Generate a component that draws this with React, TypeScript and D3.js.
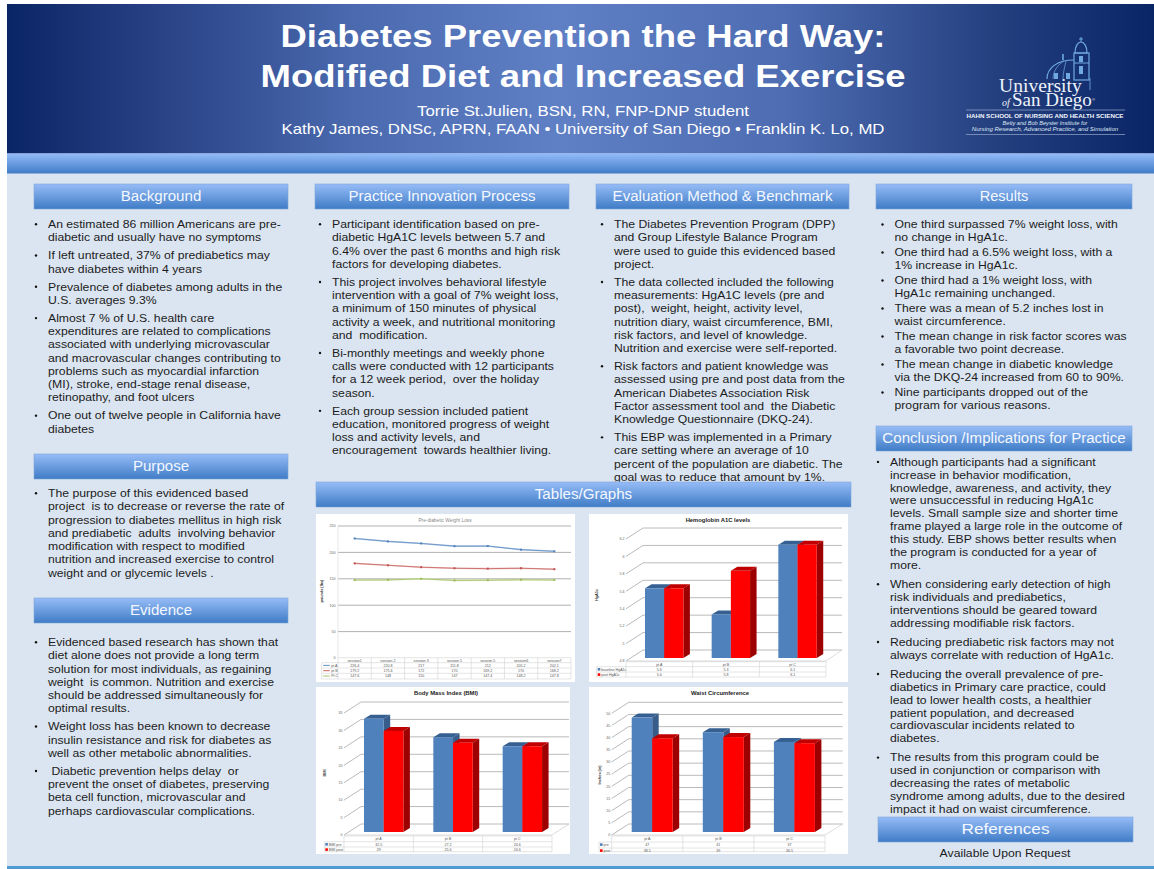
import React from "react";
import * as d3 from "d3";

const titleLines = ["Diabetes Prevention the Hard Way:", "Modified Diet and Increased Exercise"];
const titleWidths = [605, 645];
const authorLines = [
  "Torrie St.Julien, BSN, RN, FNP-DNP student",
  "Kathy James, DNSc, APRN, FAAN • University of San Diego • Franklin K. Lo, MD",
];
const authorWidths = [332, 603];

const backgroundItems = [
  ["An estimated 86 million Americans are pre-", "diabetic and usually have no symptoms"],
  ["If left untreated, 37% of prediabetics may", "have diabetes within 4 years"],
  ["Prevalence of diabetes among adults in the", "U.S. averages 9.3%"],
  ["Almost 7 % of U.S. health care", "expenditures are related to complications", "associated with underlying microvascular", "and macrovascular changes contributing to", "problems such as myocardial infarction", "(MI), stroke, end-stage renal disease,", "retinopathy, and foot ulcers"],
  ["One out of twelve people in California have", "diabetes"],
];
const purposeItems = [
  ["The purpose of this evidenced based", "project  is to decrease or reverse the rate of", "progression to diabetes mellitus in high risk", "and prediabetic  adults  involving behavior", "modification with respect to modified", "nutrition and increased exercise to control", "weight and or glycemic levels ."],
];
const evidenceItems = [
  ["Evidenced based research has shown that", "diet alone does not provide a long term", "solution for most individuals, as regaining", "weight  is common. Nutrition and exercise", "should be addressed simultaneously for", "optimal results."],
  ["Weight loss has been known to decrease", "insulin resistance and risk for diabetes as", "well as other metabolic abnormalities."],
  [" Diabetic prevention helps delay  or", "prevent the onset of diabetes, preserving", "beta cell function, microvascular and", "perhaps cardiovascular complications."],
];
const practiceItems = [
  ["Participant identification based on pre-", "diabetic HgA1C levels between 5.7 and", "6.4% over the past 6 months and high risk", "factors for developing diabetes."],
  ["This project involves behavioral lifestyle", "intervention with a goal of 7% weight loss,", "a minimum of 150 minutes of physical", "activity a week, and nutritional monitoring", "and  modification."],
  ["Bi-monthly meetings and weekly phone", "calls were conducted with 12 participants", "for a 12 week period,  over the holiday", "season."],
  ["Each group session included patient", "education, monitored progress of weight", "loss and activity levels, and", "encouragement  towards healthier living."],
];
const evaluationItems = [
  ["The Diabetes Prevention Program (DPP)", "and Group Lifestyle Balance Program", "were used to guide this evidenced based", "project."],
  ["The data collected included the following", "measurements: HgA1C levels (pre and", "post),  weight, height, activity level,", "nutrition diary, waist circumference, BMI,", "risk factors, and level of knowledge.", "Nutrition and exercise were self-reported."],
  ["Risk factors and patient knowledge was", "assessed using pre and post data from the", "American Diabetes Association Risk", "Factor assessment tool and  the Diabetic", "Knowledge Questionnaire (DKQ-24)."],
  ["This EBP was implemented in a Primary", "care setting where an average of 10", "percent of the population are diabetic. The", "goal was to reduce that amount by 1%."],
];
const resultsItems = [
  ["One third surpassed 7% weight loss, with", "no change in HgA1c."],
  ["One third had a 6.5% weight loss, with a", "1% increase in HgA1c."],
  ["One third had a 1% weight loss, with", "HgA1c remaining unchanged."],
  ["There was a mean of 5.2 inches lost in", "waist circumference."],
  ["The mean change in risk factor scores was", "a favorable two point decrease."],
  ["The mean change in diabetic knowledge", "via the DKQ-24 increased from 60 to 90%."],
  ["Nine participants dropped out of the", "program for various reasons."],
];
const conclusionItems = [
  ["Although participants had a significant", "increase in behavior modification,", "knowledge, awareness, and activity, they", "were unsuccessful in reducing HgA1c", "levels. Small sample size and shorter time", "frame played a large role in the outcome of", "this study. EBP shows better results when", "the program is conducted for a year of", "more."],
  ["When considering early detection of high", "risk individuals and prediabetics,", "interventions should be geared toward", "addressing modifiable risk factors."],
  ["Reducing prediabetic risk factors may not", "always correlate with reduction of HgA1c."],
  ["Reducing the overall prevalence of pre-", "diabetics in Primary care practice, could", "lead to lower health costs, a healthier", "patient population, and decreased", "cardiovascular incidents related to", "diabetes."],
  ["The results from this program could be", "used in conjunction or comparison with", "decreasing the rates of metabolic", "syndrome among adults, due to the desired", "impact it had on waist circumference."],
];

// Weight-loss line chart
const sessions = ["session1", "session 2", "session 3", "session 5", "session 5", "session6", "session7"];
const weightPtA = [226.4, 220.8, 217, 211.8, 212, 205.2, 202.1];
const weightPtB = [179.2, 175.6, 172, 170, 169.2, 170, 168.2];
const weightPtC = [147.6, 148, 150, 147, 147.4, 148.2, 147.8];
const weightTicks = [0, 50, 100, 150, 200, 250];

// 3D bar charts
const patients = ["pt A", "pt B", "pt C"];
const a1cBase = [5.6, 5.3, 6.1];
const a1cPost = [5.6, 5.8, 6.1];
const a1cTicks = [4.8, 5, 5.2, 5.4, 5.6, 5.8, 6, 6.2];
const bmiPre = [32.5, 27.2, 24.6];
const bmiPost = [29, 25.6, 24.6];
const bmiTicks = [0, 5, 10, 15, 20, 25, 30, 35];
const waistPre = [47, 41, 37];
const waistPost = [38.5, 39, 36.5];
const waistTicks = [0, 5, 10, 15, 20, 25, 30, 35, 40, 45, 50];

const FONT = "'Liberation Sans', Arial, sans-serif";
const SERIF = "'Liberation Serif', serif";

function Heading({ x, y, w, label, stretch = 1.035 }: { x: number; y: number; w: number; label: string; stretch?: number }) {
  return (
    <g>
      <rect x={x} y={y} width={w} height={25} fill="url(#headBar)" stroke="#7ea6d8" strokeWidth={0.6} />
      <text
        transform={`translate(${x + w / 2},${y + 17}) scale(${stretch},1)`}
        textAnchor="middle" fontSize={14.6} fill="#f4f8ff" fontFamily={FONT}
      >{label}</text>
    </g>
  );
}

function Bullets({ items, x, y, lh = 13.25, gap = 4.8, size = 11.6 }: { items: string[][]; x: number; y: number; lh?: number; gap?: number; size?: number }) {
  let cursor = y;
  const out: React.ReactNode[] = [];
  items.forEach((lines, i) => {
    out.push(<circle key={`b${i}`} cx={x + 2} cy={cursor - 3.8} r={1.2} fill="#111" />);
    lines.forEach((line, j) => {
      out.push(
        <text
          key={`${i}-${j}`}
          transform={`translate(${x + 14},${cursor}) scale(1.053,1)`}
          fontSize={size} fill="#1c1c1c" fontFamily={FONT} xmlSpace="preserve"
        >{line}</text>
      );
      cursor += lh;
    });
    cursor += gap;
  });
  return <g>{out}</g>;
}

type TableRow = { label: string; color: string; values: (string | number)[]; line?: boolean };

function DataTable({ x0, x1, labelX, rowYs, heads, rows }: { x0: number; x1: number; labelX: number; rowYs: number[]; heads: string[]; rows: TableRow[] }) {
  const band = d3.scaleBand<number>().domain(heads.map((_, i) => i)).range([x0, x1]);
  const stroke = "#c9c9c9";
  return (
    <g fontFamily={FONT} fontSize={3.6} fill="#555">
      <line x1={x0} x2={x1} y1={rowYs[0]} y2={rowYs[0]} stroke={stroke} strokeWidth={0.5} />
      {rowYs.slice(1).map((y) => (
        <line key={y} x1={labelX} x2={x1} y1={y} y2={y} stroke={stroke} strokeWidth={0.5} />
      ))}
      <line x1={labelX} x2={labelX} y1={rowYs[1]} y2={rowYs[rowYs.length - 1]} stroke={stroke} strokeWidth={0.5} />
      {d3.range(heads.length + 1).map((i) => (
        <line key={i} x1={x0 + i * band.step()} x2={x0 + i * band.step()} y1={rowYs[0]} y2={rowYs[rowYs.length - 1]} stroke={stroke} strokeWidth={0.5} />
      ))}
      {heads.map((h, i) => (
        <text key={h + i} x={band(i)! + band.step() / 2} y={rowYs[0] + 3.9} textAnchor="middle">{h}</text>
      ))}
      {rows.map((r, ri) => (
        <g key={r.label}>
          {r.line ? (
            <line x1={labelX + 1.5} x2={labelX + 8} y1={rowYs[ri + 1] + 2.7} y2={rowYs[ri + 1] + 2.7} stroke={r.color} strokeWidth={0.9} />
          ) : (
            <rect x={labelX + 1} y={rowYs[ri + 1] + 1.3} width={2.6} height={2.6} fill={r.color} />
          )}
          <text x={labelX + (r.line ? 9.5 : 4.5)} y={rowYs[ri + 1] + 4}>{r.label}</text>
          {r.values.map((v, i) => (
            <text key={i} x={band(i)! + band.step() / 2} y={rowYs[ri + 1] + 4} textAnchor="middle">{v}</text>
          ))}
        </g>
      ))}
    </g>
  );
}

function WeightChart() {
  const x0 = 338, x1 = 571;
  const y = d3.scaleLinear().domain([0, 250]).range([658, 526]);
  const x = d3.scalePoint<string>().domain(sessions.map((_, i) => String(i))).range([x0, x1]).padding(0.5);
  const series = [
    { label: "pt A", color: "#4f81bd", halo: "#b9cde6", values: weightPtA },
    { label: "pt B", color: "#c0504d", halo: "#eec6c5", values: weightPtB },
    { label: "Pt C", color: "#9bbb59", halo: "#d5e3b6", values: weightPtC },
  ];
  const path = d3.line<number>().x((_, i) => x(String(i))!).y((d) => y(d));
  return (
    <g>
      <rect x={316} y={514} width={259} height={168} fill="#fff" />
      <text x={445} y={522} textAnchor="middle" fontSize={4.8} fill="#8a8a8a" fontFamily={FONT}>Pre-diabetic Weight Loss</text>
      {weightTicks.map((t) => (
        <g key={t}>
          {t > 0 && <line x1={x0} x2={x1} y1={y(t)} y2={y(t)} stroke="#a8a8a8" strokeWidth={0.9} />}
          <text x={x0 - 2.5} y={y(t) + 1.3} textAnchor="end" fontSize={3.6} fill="#666" fontFamily={FONT}>{t}</text>
        </g>
      ))}
      <line x1={x0} x2={x0} y1={y(250)} y2={y(0)} stroke="#cfcfcf" strokeWidth={0.5} />
      {series.map((s) => (
        <g key={s.label}>
          <path d={path(s.values)!} fill="none" stroke={s.halo} strokeWidth={1.6} />
          <path d={path(s.values)!} fill="none" stroke={s.color} strokeWidth={0.7} />
          {s.values.map((v, i) => (
            <rect key={i} x={x(String(i))! - 1} y={y(v) - 1} width={2} height={2} fill={s.color} />
          ))}
        </g>
      ))}
      <text transform="translate(323,591) rotate(-90)" textAnchor="middle" fontSize={3.8} fontWeight="bold" fill="#333" fontFamily={FONT}>pounds (lbs)</text>
      <DataTable
        x0={x0}
        x1={x1}
        labelX={321.7}
        rowYs={[657.7, 662.7, 668, 673.3, 679]}
        heads={sessions}
        rows={series.map((s) => ({ label: s.label, color: s.color, values: s.values, line: true }))}
      />
    </g>
  );
}

type Bar3DProps = {
  panel: [number, number, number, number];
  title: string; titleX: number; titleY: number;
  axisLabel: string; axisX: number; axisY: number;
  ticks: number[];
  x0: number; x1: number; yTop: number; yBottom: number;
  depthX: number; depthY: number; backRight: number;
  barStart: number; barW: number; barLift: number;
  names: [string, string]; pre: number[]; post: number[];
  labelX: number; rowYs: number[];
};

function Bar3D(p: Bar3DProps) {
  const domain = d3.extent(p.ticks) as [number, number];
  const y = d3.scaleLinear().domain(domain).range([p.yBottom, p.yTop]);
  const cat = d3.scaleBand<string>().domain(patients).range([p.x0, p.x1]);
  const faces = [
    { front: "#4f81bd", top: "#376092", side: "#385d8a", values: p.pre },
    { front: "#ff0000", top: "#c00000", side: "#9c0000", values: p.post },
  ];
  const bx = 6.5, by = 4;
  return (
    <g>
      <rect x={p.panel[0]} y={p.panel[1]} width={p.panel[2]} height={p.panel[3]} fill="#fff" />
      <text x={p.titleX} y={p.titleY} textAnchor="middle" fontSize={5.85} fontWeight="bold" fill="#222" fontFamily={FONT}>{p.title}</text>
      {p.ticks.map((t) => (
        <g key={t}>
          <polyline
            points={`${p.x0},${y(t)} ${p.x0 + p.depthX},${y(t) - p.depthY} ${p.backRight},${y(t) - p.depthY}`}
            fill="none" stroke="#a8a8a8" strokeWidth={0.8}
          />
          <text x={p.x0 - 1.5} y={y(t) + 1.3} textAnchor="end" fontSize={3.6} fill="#666" fontFamily={FONT}>{t}</text>
        </g>
      ))}
      <polyline
        points={`${p.x1},${p.yBottom} ${p.backRight},${p.yBottom - p.depthY}`}
        fill="none" stroke="#c4c4c4" strokeWidth={0.6}
      />
      <line x1={p.x0} x2={p.x1} y1={p.yBottom} y2={p.yBottom} stroke="#c4c4c4" strokeWidth={0.6} />
      {patients.map((c, ci) => (
        <g key={c}>
          {faces.map((f, fi) => {
            const left = cat(c)! + p.barStart + fi * p.barW;
            const top = y(f.values[ci]) - p.barLift;
            const base = p.yBottom - p.barLift;
            const right = left + p.barW;
            return (
              <g key={fi}>
                <polygon points={`${left},${top} ${left + bx},${top - by} ${right + bx},${top - by} ${right},${top}`} fill={f.top} />
                <polygon points={`${right},${top} ${right + bx},${top - by} ${right + bx},${base - by} ${right},${base}`} fill={f.side} />
                <rect x={left} y={top} width={p.barW} height={base - top} fill={f.front} />
              </g>
            );
          })}
        </g>
      ))}
      <text transform={`translate(${p.axisX},${p.axisY}) rotate(-90)`} textAnchor="middle" fontSize={3.8} fontWeight="bold" fill="#333" fontFamily={FONT}>{p.axisLabel}</text>
      <DataTable
        x0={p.x0}
        x1={p.x1}
        labelX={p.labelX}
        rowYs={p.rowYs}
        heads={patients}
        rows={[
          { label: p.names[0], color: "#4f81bd", values: p.pre },
          { label: p.names[1], color: "#ff0000", values: p.post },
        ]}
      />
    </g>
  );
}

function Logo() {
  const blue = "#6fa9e0";
  return (
    <g>
      {/* Bell tower */}
      <path d="M1081 37v5M1079 39h4" stroke={blue} strokeWidth={1} fill="none" />
      <path d="M1075 53c0-7 3-11 6-11s6 4 6 11z" fill="none" stroke={blue} strokeWidth={1.2} />
      <rect x={1074} y={53} width={15} height={27} fill="none" stroke={blue} strokeWidth={1.2} />
      <rect x={1079} y={56} width={4} height={6} fill={blue} />
      <rect x={1079} y={66} width={4} height={8} fill={blue} />
      <line x1={1074} x2={1089} y1={63} y2={63} stroke={blue} strokeWidth={1} />
      <line x1={1090} x2={1090} y1={78} y2={90} stroke={blue} strokeWidth={0.8} />
      {/* Dome */}
      <path d="M1047 79c0-11 10-19 27-19" fill="none" stroke={blue} strokeWidth={1.2} />
      <path d="M1053 79c0-9 6-15 11-18M1063 79c0-7 2-13 3-18" fill="none" stroke={blue} strokeWidth={0.7} />
      <path d="M1063 60v-6" stroke={blue} strokeWidth={1.6} />
      <rect x={1054} y={73} width={4} height={6} fill={blue} />
      <rect x={1066} y={73} width={4} height={6} fill={blue} />
      {/* Wordmark */}
      <text x={999} y={92} fontSize={19.6} fill="#eef3fb" fontFamily={SERIF}>University</text>
      <text x={1002} y={106} fontSize={10} fontStyle="italic" fill="#eef3fb" fontFamily={SERIF}>of</text>
      <text x={1012} y={106} fontSize={19} fill="#eef3fb" fontFamily={SERIF}>San Diego</text>
      <text x={1092} y={101} fontSize={4} fill="#eef3fb" fontFamily={FONT}>®</text>
      <line x1={966} x2={1125} y1={110} y2={110} stroke="#a9bcdc" strokeWidth={0.6} />
      <text x={1045} y={118} textAnchor="middle" fontSize={6.2} fontWeight="bold" fill="#f2f5fb" fontFamily={FONT}>HAHN SCHOOL OF NURSING AND HEALTH SCIENCE</text>
      <text x={1045} y={124.5} textAnchor="middle" fontSize={5.6} fontStyle="italic" fill="#dde6f4" fontFamily={FONT}>Betty and Bob Beyster Institute for</text>
      <text x={1045} y={131} textAnchor="middle" fontSize={6.1} fontStyle="italic" fill="#dde6f4" fontFamily={FONT}>Nursing Research, Advanced Practice, and Simulation</text>
      <line x1={966} x2={1125} y1={134.5} y2={134.5} stroke="#a9bcdc" strokeWidth={0.6} />
    </g>
  );
}

export default function App() {
  return (
    <svg width={1154} height={869} viewBox="0 0 1154 869" style={{ position: "absolute", left: 0, top: 0, background: "#fff" }}>
      <defs>
        <linearGradient id="banner" x1="0" x2="1" y1="0" y2="0">
          <stop offset="0" stopColor="#0a2566" />
          <stop offset="0.12" stopColor="#263f82" />
          <stop offset="0.3" stopColor="#4a69ae" />
          <stop offset="0.48" stopColor="#6080c6" />
          <stop offset="0.68" stopColor="#4d6cb2" />
          <stop offset="0.86" stopColor="#25407f" />
          <stop offset="1" stopColor="#0a2566" />
        </linearGradient>
        <linearGradient id="stripe" x1="0" x2="0" y1="0" y2="1">
          <stop offset="0" stopColor="#94bbf8" />
          <stop offset="1" stopColor="#3f7cc6" />
        </linearGradient>
        <linearGradient id="headBar" x1="0" x2="0" y1="0" y2="1">
          <stop offset="0" stopColor="#96bcf7" />
          <stop offset="1" stopColor="#3f7cc6" />
        </linearGradient>
      </defs>

      <rect x={7} y={4} width={1147} height={865} fill="#dbe5f1" />
      <rect x={7} y={4} width={1147} height={149.5} fill="url(#banner)" />
      <rect x={7} y={153.5} width={1147} height={20} fill="url(#stripe)" />
      <rect x={7} y={866} width={1147} height={3} fill="#4f9ad0" />

      {titleLines.map((t, i) => (
        <text
          key={t}
          x={583} y={46.5 + i * 40.5}
          textAnchor="middle" fontSize={31.5} fontWeight="bold" fill="#fff" fontFamily={FONT}
          textLength={titleWidths[i]} lengthAdjust="spacingAndGlyphs"
        >{t}</text>
      ))}
      {authorLines.map((t, i) => (
        <text
          key={t}
          x={583} y={116 + i * 18.3}
          textAnchor="middle" fontSize={15} fill="#fff" fontFamily={FONT}
          textLength={authorWidths[i]} lengthAdjust="spacingAndGlyphs"
        >{t}</text>
      ))}
      <Logo />

      <Heading x={34} y={184} w={254} label="Background" />
      <Bullets items={backgroundItems} x={34} y={228} />
      <Heading x={34} y={454} w={254} label="Purpose" />
      <Bullets items={purposeItems} x={34} y={497} />
      <Heading x={34} y={598} w={254} label="Evidence" />
      <Bullets items={evidenceItems} x={34} y={646} />

      <Heading x={315} y={184} w={254} label="Practice Innovation Process" />
      <Bullets items={practiceItems} x={318} y={228} />

      <Heading x={596} y={184} w={253} label="Evaluation Method & Benchmark" />
      <Bullets items={evaluationItems} x={600} y={228} />

      <Heading x={876} y={184} w={256} label="Results" stretch={1} />
      <Bullets items={resultsItems} x={880.5} y={228.3} lh={13} gap={2} />
      <Heading x={876} y={426} w={256} label="Conclusion /Implications for Practice" />
      <Bullets items={conclusionItems} x={876} y={465.7} lh={12.9} gap={6.2} />
      <Heading x={878} y={817} w={255} label="References" stretch={1.18} />
      <text
        transform="translate(1005,857.3) scale(1.053,1)"
        textAnchor="middle" fontSize={11.6} fill="#1c1c1c" fontFamily={FONT}
      >Available Upon Request</text>

      <Heading x={316} y={482} w={535} label="Tables/Graphs" />

      <WeightChart />
      <Bar3D
        panel={[589, 514, 259, 168]}
        title="Hemoglobin A1C levels" titleX={718} titleY={522}
        axisLabel="HgA1c" axisX={598} axisY={595}
        ticks={a1cTicks}
        x0={626} x1={826} yTop={539} yBottom={661}
        depthX={17} depthY={11} backRight={842}
        barStart={19} barW={19.2} barLift={3}
        names={["baseline HgA1c", "post HgA1c"]} pre={a1cBase} post={a1cPost}
        labelX={596.7} rowYs={[661.7, 666.7, 672, 677]}
      />
      <Bar3D
        panel={[316, 687, 254, 167]}
        title="Body Mass Index (BMI)" titleX={446} titleY={695}
        axisLabel="BMI" axisX={326} axisY={773}
        ticks={bmiTicks}
        x0={344} x1={552} yTop={713} yBottom={835}
        depthX={17} depthY={11} backRight={569}
        barStart={20} barW={19.7} barLift={3}
        names={["BMI pre", "BMI post"]} pre={bmiPre} post={bmiPost}
        labelX={324.3} rowYs={[836, 841.7, 847, 851.7]}
      />
      <Bar3D
        panel={[589, 687, 259, 167]}
        title="Waist Circumference" titleX={720} titleY={695}
        axisLabel="Inches (in)" axisX={601} axisY={775}
        ticks={waistTicks}
        x0={611.7} x1={825} yTop={713.3} yBottom={835}
        depthX={17} depthY={11} backRight={842.7}
        barStart={20} barW={20.5} barLift={3}
        names={["pre", "post"]} pre={waistPre} post={waistPost}
        labelX={599} rowYs={[836, 842, 848, 851.7]}
      />
    </svg>
  );
}
